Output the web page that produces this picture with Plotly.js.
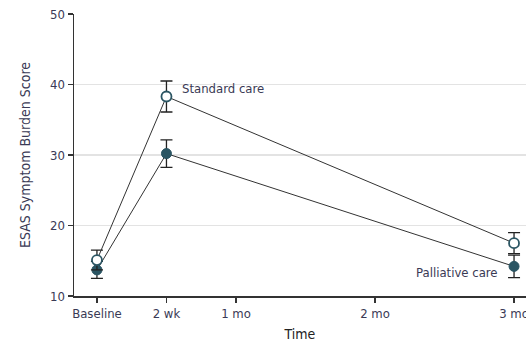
<!DOCTYPE html>
<html><head><meta charset="utf-8">
<script src="https://cdn.plot.ly/plotly-3.0.1.min.js"></script>
<style>body{margin:0;padding:0;background:#fff}#chart{width:526px;height:344px}</style>
</head><body><div id="chart"></div>
<script>
const timeMonths = [0, 0.5, 3];
const tickVals = [0, 0.5, 1, 2, 3];
const tickLabels = ["Baseline", "2 wk", "1 mo", "2 mo", "3 mo"];
const standardCare = [15.1, 38.3, 17.5];
const standardErr = [1.4, 2.2, 1.5];
const palliativeCare = [13.7, 30.2, 14.2];
const palliativeErr = [1.2, 1.95, 1.6];

const FONT = '"Liberation Sans Narrow", "DejaVu Sans Condensed", "Roboto Condensed", sans-serif';
const TXT = '#3a3a55';
const teal = '#2b5563';

const traces = [
  {x: timeMonths, y: palliativeCare, type: 'scatter', mode: 'lines+markers', name: 'Palliative care',
   line: {color: '#333', width: 1},
   marker: {size: 10, color: teal, line: {color: teal, width: 1}},
   error_y: {type: 'data', array: palliativeErr, visible: true, color: '#222', thickness: 1.3, width: 6}},
  {x: timeMonths, y: standardCare, type: 'scatter', mode: 'lines+markers', name: 'Standard care',
   line: {color: '#333', width: 1},
   marker: {size: 10, color: '#ffffff', line: {color: teal, width: 1.8}},
   error_y: {type: 'data', array: standardErr, visible: true, color: '#222', thickness: 1.3, width: 6}}
];

const layout = {
  width: 526, height: 344,
  margin: {l: 74, r: 0, t: 14, b: 48},
  paper_bgcolor: '#fff', plot_bgcolor: '#fff',
  showlegend: false,
  font: {family: FONT, size: 13, color: TXT},
  xaxis: {
    range: [-0.165, 3.086], tickvals: tickVals, ticktext: tickLabels,
    automargin: false, ticklabeloverflow: 'allow',
    showgrid: false, zeroline: false, showline: true, linecolor: '#333', linewidth: 1.5,
    ticks: 'outside', ticklen: 5, tickcolor: '#333', tickwidth: 1.3,
    tickfont: {family: FONT, size: 13, color: TXT},
    title: {text: 'Time', font: {family: FONT, size: 14, color: '#222'}, standoff: 9}
  },
  yaxis: {
    range: [10, 50], tickvals: [10, 20, 30, 40, 50],
    automargin: false,
    showgrid: true, gridcolor: '#e3e3e3', gridwidth: 1.2, zeroline: false,
    showline: true, linecolor: '#333', linewidth: 1.5,
    ticks: 'outside', ticklen: 5, tickcolor: '#333', tickwidth: 1.3,
    tickfont: {family: FONT, size: 13, color: TXT},
    title: {text: 'ESAS Symptom Burden Score', font: {family: FONT, size: 14, color: TXT}, standoff: 16}
  },
  annotations: [
    {x: timeMonths[1], y: 39.5, xref: 'x', yref: 'y', text: 'Standard care', showarrow: false,
     xanchor: 'left', yanchor: 'middle', xshift: 14, font: {family: FONT, size: 13, color: TXT}},
    {x: timeMonths[2], y: 13.4, xref: 'x', yref: 'y', text: 'Palliative care', showarrow: false,
     xanchor: 'right', yanchor: 'middle', xshift: -14, font: {family: FONT, size: 13, color: TXT}}
  ]
};
Plotly.newPlot('chart', traces, layout, {displayModeBar: false, staticPlot: true});
</script></body></html>
